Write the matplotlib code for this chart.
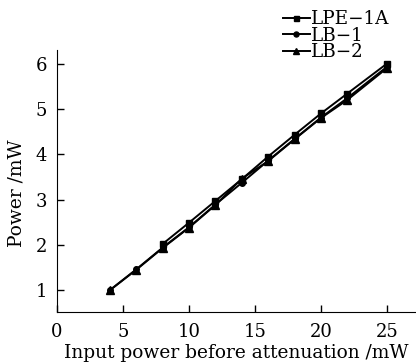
import matplotlib
matplotlib.use('Agg')
import matplotlib.pyplot as plt

# measured output power vs input power before attenuation
x_lpe = [8, 10, 12, 14, 16, 18, 20, 22, 25]
y_lpe = [2.02, 2.49, 2.97, 3.45, 3.95, 4.43, 4.9, 5.34, 6.0]

x_lb1 = [4, 6, 8, 10, 12, 14, 16, 18, 20, 22, 25]
y_lb1 = [1.0, 1.46, 1.94, 2.39, 2.89, 3.37, 3.86, 4.34, 4.81, 5.24, 5.93]

x_lb2 = [4, 6, 8, 10, 12, 14, 16, 18, 20, 22, 25]
y_lb2 = [1.0, 1.45, 1.93, 2.38, 2.88, 3.46, 3.85, 4.33, 4.8, 5.2, 5.9]

xticks = [0, 5, 10, 15, 20, 25]
yticks = [1, 2, 3, 4, 5, 6]

plt.rcParams['font.family'] = 'serif'
plt.rcParams['font.serif'] = ['DejaVu Serif']

fig = plt.figure(figsize=(4.16, 3.64), dpi=100)
ax = fig.add_axes([57 / 416, 52 / 364, 359 / 416, 262 / 364])

ax.plot(x_lpe, y_lpe, '-s', color='black', lw=1.4, ms=4, label='LPE\u22121A')
ax.plot(x_lb1, y_lb1, '-o', color='black', lw=1.4, ms=4, label='LB\u22121')
ax.plot(x_lb2, y_lb2, '-^', color='black', lw=1.4, ms=5.5, label='LB\u22122')

ax.set_xlim(0, 27.2)
ax.set_ylim(0.52, 6.3)
ax.set_xticks(xticks)
ax.set_yticks(yticks)
ax.spines['top'].set_visible(False)
ax.spines['right'].set_visible(False)
ax.tick_params(direction='in', length=5, width=1, labelsize=13)
ax.tick_params(axis='x', pad=8)
ax.tick_params(axis='y', pad=7)
ax.set_xlabel('Input power before attenuation /mW', fontsize=13.4, labelpad=2)
ax.set_ylabel('Power /mW', fontsize=13.4)
ax.yaxis.set_label_coords(-0.088, 0.454)

fig.legend(loc='upper left', bbox_to_anchor=(283 / 416, 1 - 10 / 364),
           frameon=False, fontsize=13.2, handlelength=1.45, handletextpad=0.1,
           labelspacing=-0.08, borderpad=0, borderaxespad=0, markerscale=0.9)

fig.savefig('out.png', dpi=100)
